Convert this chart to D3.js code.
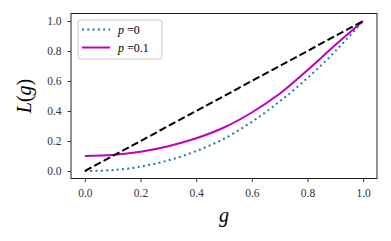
<!DOCTYPE html>
<html>
<head>
<meta charset="utf-8">
<script src="https://cdn.jsdelivr.net/npm/d3@7"></script>
<style>
  body { margin: 0; background: #fff; }
  svg text { font-family: "Liberation Serif", "DejaVu Serif", serif; }
</style>
</head>
<body>
<div id="chart"></div>
<script>
// values, g = 0, 0.1, ..., 1.0
const gValues = [0, 0.1, 0.2, 0.3, 0.4, 0.5, 0.6, 0.7, 0.8, 0.9, 1.0];
const lorenzP0 = [0, 0.006, 0.029, 0.071, 0.133, 0.215, 0.328, 0.463, 0.62, 0.798, 1.0];
const lorenzP01 = [0.10, 0.107, 0.128, 0.165, 0.218, 0.29, 0.39, 0.515, 0.672, 0.84, 1.0];
const equality = [0, 1];
const tickValues = [0, 0.2, 0.4, 0.6, 0.8, 1.0];
const legendLabels = ["0", "0.1"];

const width = 391, height = 241;
const margin = { top: 13.5, right: 14, bottom: 62.5, left: 71 };
const w = width - margin.left - margin.right,
    h = height - margin.top - margin.bottom;

const svg = d3.select("#chart")
    .append("svg")
    .attr("width", width)
    .attr("height", height);

const g = svg.append("g")
    .attr("transform", `translate(${margin.left},${margin.top})`);

const x = d3.scaleLinear().domain([-0.05, 1.05]).range([0, w]);
const y = d3.scaleLinear().domain([-0.05, 1.05]).range([h, 0]);

const line = d3.line()
    .x(d => x(d[0]))
    .y(d => y(d[1]))
    .curve(d3.curveCatmullRom.alpha(0.5));

const p0Data = gValues.map((v, i) => [v, lorenzP0[i]]);
const p01Data = gValues.map((v, i) => [v, lorenzP01[i]]);
const eqData = equality.map(v => [v, v]);

g.append("path")
    .datum(p0Data)
    .attr("d", line)
    .attr("fill", "none")
    .attr("stroke", "#1f77b4")
    .attr("stroke-width", 2)
    .attr("stroke-dasharray", "2,3.3");

g.append("path")
    .datum(p01Data)
    .attr("d", line)
    .attr("fill", "none")
    .attr("stroke", "#bf00bf")
    .attr("stroke-width", 2);

g.append("path")
    .datum(eqData)
    .attr("d", line)
    .attr("fill", "none")
    .attr("stroke", "#000")
    .attr("stroke-width", 2)
    .attr("stroke-dasharray", "7.4,3.2");

// axes
const xAxis = g.append("g")
    .attr("transform", `translate(0,${h})`)
    .call(d3.axisBottom(x).tickValues(tickValues).tickFormat(d3.format(".1f")).tickSize(3.5).tickPadding(7));
const yAxis = g.append("g")
    .call(d3.axisLeft(y).tickValues(tickValues).tickFormat(d3.format(".1f")).tickSize(3.5).tickPadding(6));

[xAxis, yAxis].forEach(a => {
    a.attr("font-family", null);
    a.select(".domain").remove();
    a.selectAll("line").attr("stroke", "#222").attr("stroke-width", 0.9);
    a.selectAll("text")
        .style("font-family", "'Liberation Serif', serif")
        .style("font-size", "11.5px")
        .attr("fill", "#333");
});

g.append("rect")
    .attr("width", w)
    .attr("height", h)
    .attr("fill", "none")
    .attr("stroke", "#222")
    .attr("stroke-width", 1);

// axis labels
svg.append("text")
    .attr("x", margin.left + x(0.5))
    .attr("y", 222)
    .attr("text-anchor", "middle")
    .style("font-style", "italic")
    .style("font-size", "20px")
    .text("g");

svg.append("text")
    .attr("transform", `translate(31,${margin.top + y(0.5)}) rotate(-90)`)
    .attr("text-anchor", "middle")
    .style("font-size", "20px")
    .html('<tspan font-style="italic">L</tspan>(<tspan font-style="italic">g</tspan>)');

// legend
const legend = svg.append("g").attr("transform", "translate(78,20)");
legend.append("rect")
    .attr("width", 84)
    .attr("height", 39)
    .attr("rx", 2.5)
    .attr("fill", "#fff")
    .attr("fill-opacity", 0.8)
    .attr("stroke", "#ccc")
    .attr("stroke-width", 1);

const legendStyles = [
    { color: "#1f77b4", dash: "2,3.3" },
    { color: "#bf00bf", dash: null }
];
legendLabels.forEach((lab, i) => {
    const ly = 9.5 + i * 18;
    legend.append("line")
        .attr("x1", 4).attr("x2", 32)
        .attr("y1", ly).attr("y2", ly)
        .attr("stroke", legendStyles[i].color)
        .attr("stroke-width", 2)
        .attr("stroke-dasharray", legendStyles[i].dash);
    legend.append("text")
        .attr("x", 40)
        .attr("y", ly + 4)
        .style("font-size", "12px")
        .html(`<tspan font-style="italic">p</tspan> =${lab}`);
});
</script>
</body>
</html>
